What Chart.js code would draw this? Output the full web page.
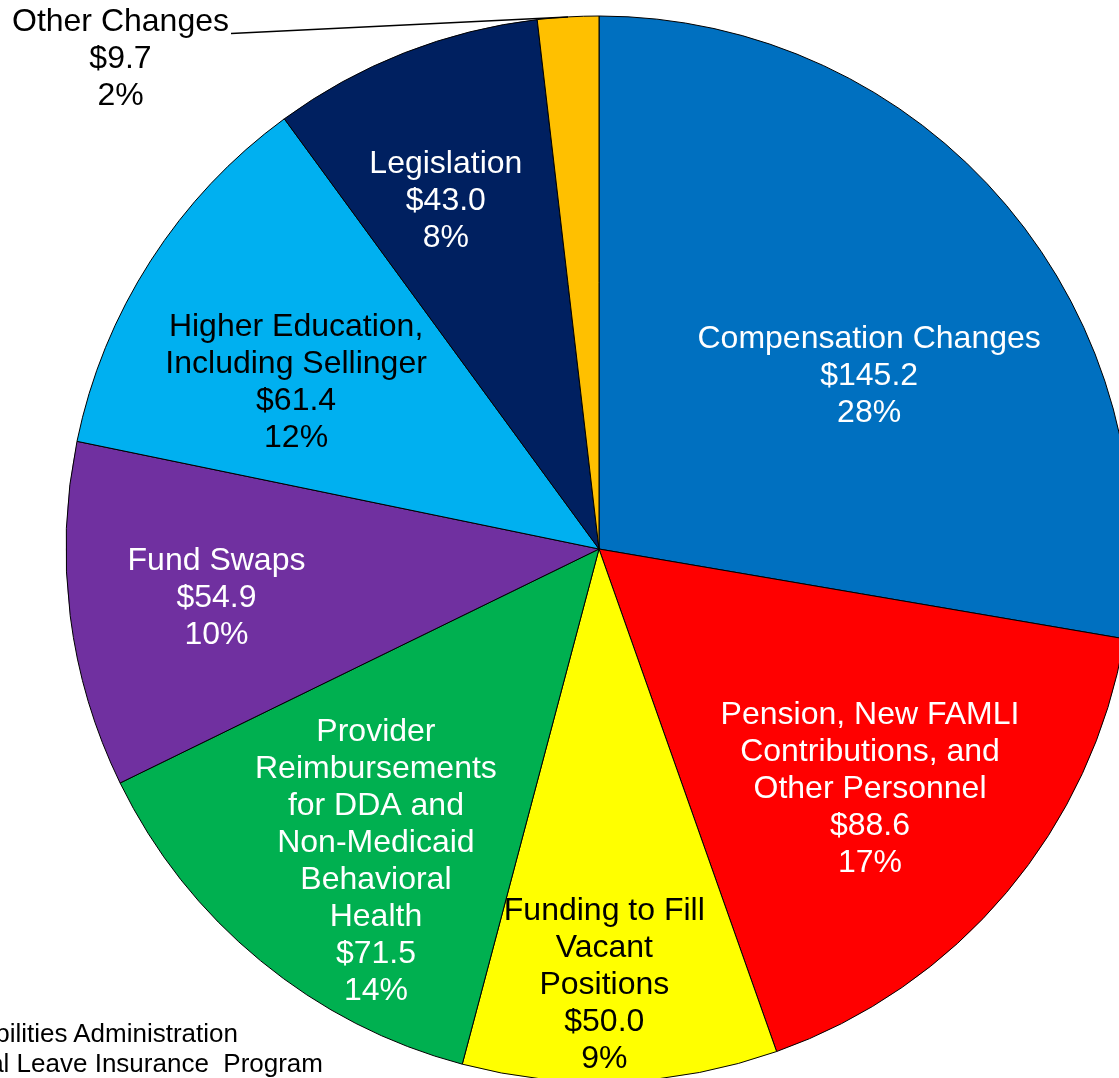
<!DOCTYPE html>
<html>
<head>
<meta charset="utf-8">
<script src="https://cdn.jsdelivr.net/npm/chart.js@4.4.1/dist/chart.umd.min.js"></script>
<style>
  html, body { margin: 0; padding: 0; background: #fff; width: 1119px; height: 1078px; overflow: hidden; position: relative; }
  #pie { position: absolute; left: 0; top: 0; }
  .note { position: absolute; white-space: nowrap; text-align: right; font: 26px "Liberation Sans", Arial, sans-serif; line-height: 30px; color: #000; }
</style>
</head>
<body>
<canvas id="pie" width="1198" height="1098"></canvas>
<div class="note" style="right: 881px; top: 1018px;">DDA: Developmental Disabilities Administration</div>
<div class="note" style="right: 796px; top: 1048px;">FAMLI: Family and Medical Leave Insurance&nbsp; Program</div>
<script>
const categories = [
    ['Compensation Changes'],
    ['Pension, New FAMLI', 'Contributions, and', 'Other Personnel'],
    ['Funding to Fill', 'Vacant', 'Positions'],
    ['Provider', 'Reimbursements', 'for DDA and', 'Non-Medicaid', 'Behavioral', 'Health'],
    ['Fund Swaps'],
    ['Higher Education,', 'Including Sellinger'],
    ['Legislation'],
    ['Other Changes'],
];
const amounts = [145.2, 88.6, 50.0, 71.5, 54.9, 61.4, 43.0, 9.7];
const pctLabels = ['28%', '17%', '9%', '14%', '10%', '12%', '8%', '2%'];

const sliceColors = ['#0070C0', '#FF0000', '#FFFF00', '#00B050', '#7030A0', '#00B0F0', '#002060', '#FFC000'];
const textColors = ['#fff', '#fff', '#000', '#fff', '#fff', '#000', '#fff', '#000'];
// label spot: [fraction of radius, degrees off the slice middle]
const labelSpots = [[0.604, 7.2], [0.677, 1.2], [0.814, 1.6], [0.717, -3.7], [0.723, 0.2], [0.650, -3.7], [0.717, -2.2], [1.287, -40.9]];

const FONT = '32px "Liberation Sans", Arial, sans-serif';
const LINE_H = 37;

const sliceLabels = {
    id: 'sliceLabels',
    afterDatasetsDraw(chart) {
        const ctx = chart.ctx;
        const arcs = chart.getDatasetMeta(0).data;
        ctx.save();
        ctx.font = FONT;
        ctx.textAlign = 'center';
        ctx.textBaseline = 'middle';
        arcs.forEach((arc, i) => {
            const { x, y, startAngle, endAngle, outerRadius } = arc.getProps(['x', 'y', 'startAngle', 'endAngle', 'outerRadius'], true);
            const mid = (startAngle + endAngle) / 2;
            const [frac, off] = labelSpots[i];
            const a = mid + off * Math.PI / 180;
            const cx = x + Math.cos(a) * outerRadius * frac;
            const cy = y + Math.sin(a) * outerRadius * frac + 2;
            const lines = categories[i].concat(['$' + amounts[i].toFixed(1), pctLabels[i]]);
            const top = cy - (lines.length - 1) / 2 * LINE_H;
            ctx.fillStyle = textColors[i];
            lines.forEach((t, j) => ctx.fillText(t, cx, top + j * LINE_H));

            if (frac > 1) {
                // leader line from the outside label to the slice edge
                const w = ctx.measureText(lines[0]).width;
                ctx.strokeStyle = '#000';
                ctx.lineWidth = 1.5;
                ctx.beginPath();
                ctx.moveTo(cx + w / 2 + 2, top + 11);
                ctx.lineTo(x + Math.cos(mid) * outerRadius, y + Math.sin(mid) * outerRadius);
                ctx.stroke();
            }
        });
        ctx.restore();
    },
};

new Chart(document.getElementById('pie'), {
    type: 'pie',
    data: {
        labels: categories.map((c) => c.join(' ')),
        datasets: [{
            data: amounts,
            backgroundColor: sliceColors,
            borderColor: '#000',
            borderWidth: 1,
        }],
    },
    options: {
        responsive: false,
        animation: false,
        radius: 533,
        layout: { padding: 0 },
        plugins: { legend: { display: false }, tooltip: { enabled: false } },
    },
    plugins: [sliceLabels],
});
</script>
</body>
</html>
